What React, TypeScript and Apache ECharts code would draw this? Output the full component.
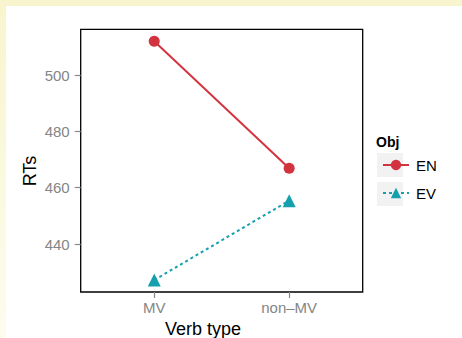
import React, { useEffect, useRef } from "react";
import * as echarts from "echarts";

const categories = ["MV", "non\u2013MV"];
const seriesNames = ["EN", "EV"];
const enValues = [512.0, 466.9];
const evValues = [427.2, 455.4];
const yTicks = [440, 460, 480, 500];

const allVals = [...enValues, ...evValues];
const dMin = Math.min(...allVals);
const dMax = Math.max(...allVals);
const pad = (dMax - dMin) * 0.05;

export default function App() {
  const ref = useRef<HTMLDivElement>(null);
  useEffect(() => {
    document.body.style.margin = "0";
    const chart = echarts.init(ref.current!, null, { renderer: "svg" });
    const font = "Liberation Sans, Arial, sans-serif";
    const red = "#d3333e";
    const teal = "#15a0ae";
    chart.setOption({
      animation: false,
      backgroundColor: "#ffffff",
      textStyle: { fontFamily: font },
      grid: {
        left: 80.7,
        top: 29.3,
        right: 99.3,
        bottom: 46,
        show: true,
        borderColor: "#000",
        borderWidth: 1.3,
        backgroundColor: "transparent",
      },
      xAxis: {
        type: "value",
        min: 1 - 0.545,
        max: 2 + 0.545,
        splitLine: { show: false },
        axisLine: { show: false },
        axisTick: { show: true, length: 6, lineStyle: { color: "#888", width: 1.2 }, customValues: [1, 2] },
        axisLabel: {
          customValues: [1, 2],
          formatter: (v: number) => categories[Math.round(v) - 1] ?? "",
          color: "#858585",
          fontSize: 15,
          fontFamily: font,
          margin: 8,
        },
      },
      yAxis: {
        type: "value",
        min: dMin - pad,
        max: dMax + pad,
        splitLine: { show: false },
        axisLine: { show: false },
        axisTick: { show: true, length: 6, lineStyle: { color: "#888", width: 1.2 }, customValues: yTicks },
        axisLabel: { customValues: yTicks, color: "#858585", fontSize: 15, fontFamily: font, margin: 11 },
      },
      legend: {
        orient: "vertical",
        left: 377,
        top: 152.5,
        itemWidth: 26,
        itemHeight: 13,
        itemGap: 13,
        textStyle: { fontSize: 15, lineHeight: 15, color: "#000", fontFamily: font, padding: [0, 0, 0, 2] },
        data: seriesNames,
      },
      graphic: [
        { type: "rect", z: -10, shape: { x: 0, y: 0, width: 462, height: 6 }, style: { fill: "#f8f5ce" } },
        {
          type: "rect",
          z: -10,
          shape: { x: 0, y: 6, width: 6, height: 332 },
          style: {
            fill: {
              type: "linear", x: 0, y: 0, x2: 0, y2: 1,
              colorStops: [
                { offset: 0, color: "#f8f5ce" },
                { offset: 1, color: "#fdfcee" },
              ],
            },
          },
        },
        { type: "rect", z: -5, shape: { x: 377, y: 153, width: 26, height: 24 }, style: { fill: "#f2f2f2" } },
        { type: "rect", z: -5, shape: { x: 377, y: 182, width: 26, height: 24 }, style: { fill: "#f2f2f2" } },
        {
          type: "text",
          x: 376,
          y: 142,
          style: { text: "Obj", font: `bold 14px ${font}`, fill: "#000", textVerticalAlign: "middle" },
        },
        {
          type: "text",
          x: 203,
          y: 329,
          style: { text: "Verb type", font: `18px ${font}`, fill: "#000", align: "center", verticalAlign: "middle" },
        },
        {
          type: "text",
          x: 30,
          y: 171,
          rotation: Math.PI / 2,
          style: { text: "RTs", font: `18px ${font}`, fill: "#000", align: "center", verticalAlign: "middle" },
        },
      ],
      series: [
        {
          name: seriesNames[0],
          type: "line",
          data: enValues.map((v, i) => [i + 1, v]),
          symbol: "circle",
          symbolSize: 11,
          itemStyle: { color: red },
          lineStyle: { color: red, width: 2 },
        },
        {
          name: seriesNames[1],
          type: "line",
          data: evValues.map((v, i) => [i + 1, v]),
          symbol: "triangle",
          symbolSize: 13,
          itemStyle: { color: teal },
          lineStyle: { color: teal, width: 2, type: [3, 3] },
        },
      ],
    });
    return () => chart.dispose();
  }, []);
  return <div ref={ref} style={{ width: 462, height: 338 }} />;
}
